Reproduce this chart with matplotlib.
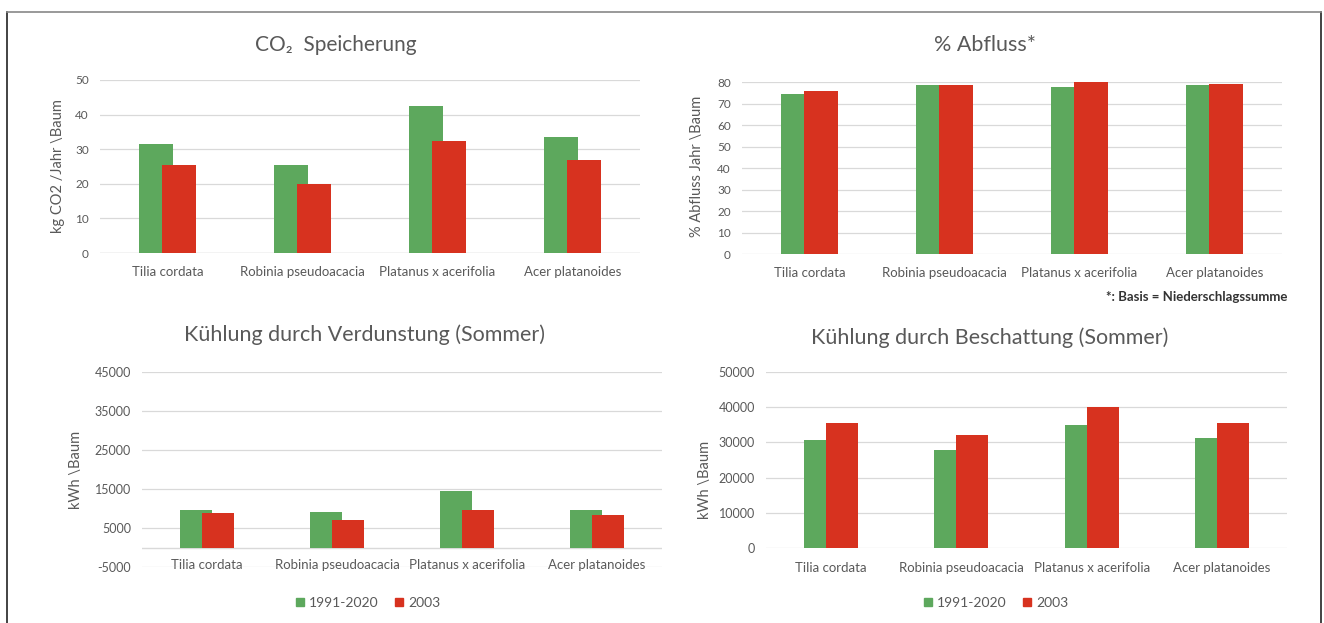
import numpy as np
import matplotlib
matplotlib.use("Agg")
import matplotlib.pyplot as plt
from matplotlib.lines import Line2D

plt.rcParams['font.family'] = ['Lato', 'DejaVu Sans']
plt.rcParams['axes.unicode_minus'] = False

species = ["Tilia cordata", "Robinia pseudoacacia", "Platanus x acerifolia", "Acer platanoides"]
series_names = ["1991-2020", "2003"]

co2_1991 = [31.5, 25.5, 42.5, 33.5]
co2_2003 = [25.5, 20.0, 32.5, 27.0]

abfluss_1991 = [74.5, 78.5, 77.5, 78.5]
abfluss_2003 = [76.0, 78.5, 80.0, 79.0]

verdunstung_1991 = [9500, 9200, 14500, 9600]
verdunstung_2003 = [8800, 7000, 9500, 8400]

beschattung_1991 = [30700, 27800, 34900, 31300]
beschattung_2003 = [35400, 32100, 40100, 35600]

GREEN = "#5DA85D"
RED = "#D7321F"
TXT = "#595959"
GRID = "#D9D9D9"

W, H = 1324, 623
fig = plt.figure(figsize=(W / 100, H / 100), dpi=100)
fig.patch.set_facecolor("white")

# outer frame (bottom edge runs off the picture)
fig.add_artist(Line2D([7 / W, 7 / W], [0, 1 - 12 / H], color="#222222", lw=1.2))
fig.add_artist(Line2D([1321 / W, 1321 / W], [0, 1 - 12 / H], color="#222222", lw=1.2))
fig.add_artist(Line2D([7 / W, 1321 / W], [1 - 12 / H, 1 - 12 / H], color="#888888", lw=1.2))


def px_axes(x0, x1, y_top, y_bot):
    return fig.add_axes([x0 / W, 1 - y_bot / H, (x1 - x0) / W, (y_bot - y_top) / H])


def ftext(x, y, s, **kw):
    return fig.text(x / W, 1 - y / H, s, ha="center", va="center", color=TXT, **kw)


def bar_panel(ax, v1, v2, ylim, yticks, xpad=9, ysize=8.5):
    x = np.arange(len(species))
    bw = 0.245
    off = 0.085
    ax.bar(x - off, v1, bw, color=GREEN, zorder=2, label=series_names[0])
    ax.bar(x + off, v2, bw, color=RED, zorder=3, label=series_names[1])
    ax.set_xlim(-0.5, len(species) - 0.5)
    ax.set_ylim(*ylim)
    ax.set_yticks(yticks)
    ax.set_xticks(x)
    ax.set_xticklabels(species)
    ax.yaxis.grid(True, color=GRID, lw=0.9, zorder=0)
    ax.set_axisbelow(True)
    for s in ax.spines.values():
        s.set_visible(False)
    ax.tick_params(axis="both", length=0, colors=TXT)
    ax.tick_params(axis="x", labelsize=9.5, pad=xpad)
    ax.tick_params(axis="y", labelsize=ysize, pad=8)
    return ax


ax1 = px_axes(100, 640, 80, 253)
bar_panel(ax1, co2_1991, co2_2003, (0, 50), np.arange(0, 51, 10))
ax1.axhline(0, color=GRID, lw=1.0, zorder=1)
ftext(58, 166, "kg CO2 /Jahr \\Baum", rotation=90, fontsize=10.5)
ftext(336, 45, "CO\u2082  Speicherung", fontsize=15)

ax2 = px_axes(742, 1282, 82, 254)
bar_panel(ax2, abfluss_1991, abfluss_2003, (0, 80), np.arange(0, 81, 10))
ftext(697, 166, "% Abfluss Jahr \\Baum", rotation=90, fontsize=10.5)
ftext(985, 45, "% Abfluss*", fontsize=15.5)
fig.text(1287 / W, 1 - 297 / H, "*: Basis = Niederschlagssumme", ha="right", va="center",
         fontsize=9.5, color="#333333", fontweight="bold")

ax3 = px_axes(142, 662, 372, 567)
bar_panel(ax3, verdunstung_1991, verdunstung_2003, (-5000, 45000),
          np.arange(-5000, 45001, 10000), xpad=-6, ysize=9)
ax3.axhline(0, color=GRID, lw=1.0, zorder=1)
for lbl in ax3.get_xticklabels():
    lbl.set_bbox(dict(facecolor="white", edgecolor="none", pad=1.5))
ftext(76, 470, "kWh \\Baum", rotation=90, fontsize=10.5)
ftext(364, 335, "Kühlung durch Verdunstung (Sommer)", fontsize=15.5)

ax4 = px_axes(766, 1287, 372, 548)
bar_panel(ax4, beschattung_1991, beschattung_2003, (0, 50000),
          np.arange(0, 50001, 10000), xpad=10, ysize=9)
ftext(705, 480, "kWh \\Baum", rotation=90, fontsize=10.5)
ftext(990, 338, "Kühlung durch Beschattung (Sommer)", fontsize=15.5)

for cx in (367, 995):
    handles = [Line2D([], [], marker="s", ls="", color=c, markersize=6) for c in (GREEN, RED)]
    fig.legend(handles, series_names, loc="center", bbox_to_anchor=(cx / W, 1 - 603 / H),
               ncol=2, frameon=False, fontsize=10, labelcolor=TXT, handletextpad=0.2,
               columnspacing=1.0, handlelength=0.9)

fig.savefig("out.png", dpi=100, facecolor="white")
